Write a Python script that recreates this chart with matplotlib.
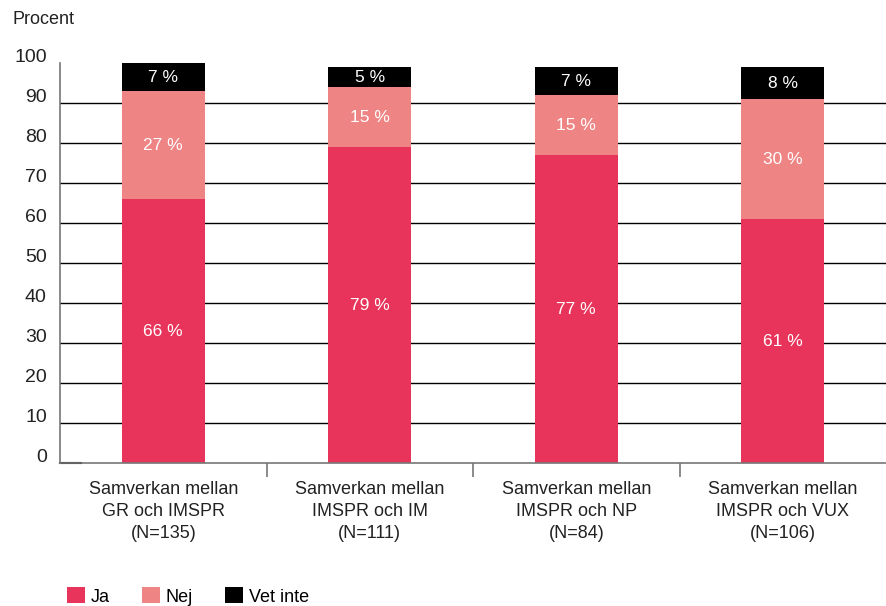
import numpy as np
import matplotlib.pyplot as plt
import matplotlib.transforms as mtransforms

plt.rcParams['font.family'] = ['Liberation Sans', 'DejaVu Sans']

kategorier = ["Samverkan mellan\nGR och IMSPR\n(N=135)",
              "Samverkan mellan\nIMSPR och IM\n(N=111)",
              "Samverkan mellan\nIMSPR och NP\n(N=84)",
              "Samverkan mellan\nIMSPR och VUX\n(N=106)"]
ja = [66, 79, 77, 61]
nej = [27, 15, 15, 30]
vet_inte = [7, 5, 7, 8]

farger = ["#e8345a", "#ef8484", "#000000"]
namn = ["Ja", "Nej", "Vet inte"]

fig = plt.figure(figsize=(8.86, 6.06), dpi=100)
ax = fig.add_axes([60/886, 1-463/606, 1-60/886, 400/606])

x = np.arange(len(kategorier))
botten = np.zeros(len(kategorier))
for serie, farg, n in zip([ja, nej, vet_inte], farger, namn):
    ax.bar(x, serie, 0.4, bottom=botten, color=farg, label=n, zorder=2)
    for xi, b, v in zip(x, botten, serie):
        ax.text(xi, b + v/2, f"{v} %", ha="center", va="center",
                color="white", fontsize=12.5, zorder=3)
    botten = botten + np.array(serie)

ax.set_xlim(-0.5, 3.5)
ax.set_ylim(0, 100)
ax.set_yticks(range(0, 101, 10))
for y in range(10, 100, 10):
    ax.axhline(y, color="black", lw=1, zorder=1)
ax.plot([-0.5, -0.4], [0, 0], color="black", lw=1.5, zorder=1, clip_on=False)

ax.tick_params(axis="y", length=0, pad=9.5, labelsize=14, labelcolor="#222222")
offset = mtransforms.ScaledTranslation(0, 7/100, fig.dpi_scale_trans)
for lab in ax.get_yticklabels():
    lab.set_transform(lab.get_transform() + offset)

ax.set_xticks(x)
ax.set_xticklabels(kategorier, fontsize=13, linespacing=1.38, color="#222222")
ax.tick_params(axis="x", length=0, pad=13)
ax.set_xticks([0.5, 1.5, 2.5], minor=True)
ax.tick_params(axis="x", which="minor", length=10, color="#777777", width=1.2)

for s in ["top", "right"]:
    ax.spines[s].set_visible(False)
ax.spines["left"].set_color("#777777")
ax.spines["bottom"].set_color("#777777")
ax.spines["left"].set_linewidth(1.2)
ax.spines["bottom"].set_linewidth(1.2)

fig.text(12/886, 1-20/606, "Procent", fontsize=13, va="center", color="#222222")

fig.legend(loc="lower left", bbox_to_anchor=(67/886, 0.5/606), ncol=3, frameon=False,
           fontsize=13, handlelength=1.0, handleheight=1.0, columnspacing=1.8,
           handletextpad=0.3, borderpad=0, borderaxespad=0)

fig.savefig("out.png", dpi=100)
